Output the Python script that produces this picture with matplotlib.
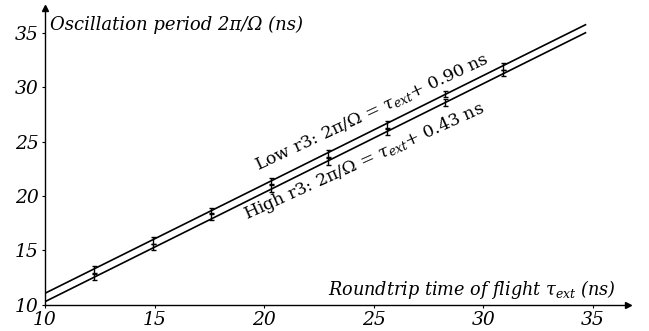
import matplotlib
matplotlib.use('Agg')
import matplotlib.pyplot as plt
import numpy as np

plt.rcParams['font.family'] = 'DejaVu Serif'
plt.rcParams['font.style'] = 'italic'
plt.rcParams['mathtext.fontset'] = 'dejavuserif'

tau = [12.25, 14.92, 17.56, 20.29, 22.89, 25.60, 28.26, 30.90]
low_r3 = [13.2, 15.9, 18.6, 21.4, 23.9, 26.6, 29.4, 31.9]
high_r3 = [12.6, 15.3, 18.1, 20.7, 23.2, 25.9, 28.6, 31.3]
low_err = [0.35, 0.3, 0.3, 0.3, 0.3, 0.3, 0.3, 0.3]
high_err = [0.35, 0.3, 0.3, 0.3, 0.3, 0.3, 0.3, 0.3]

# 피팅 직선 (양 끝점)
fit_x = [10.0, 34.66]
fit_low = [11.05, 35.76]
fit_high = [10.28, 35.02]

xticks = [10, 15, 20, 25, 30, 35]
yticks = [10, 15, 20, 25, 30, 35]

fig = plt.figure(figsize=(6.49, 3.31), dpi=100)
ax = fig.add_axes([45 / 649, 26.3 / 331, 583 / 649, 296.7 / 331])

ax.plot(fit_x, fit_low, color='black', lw=1.2)
ax.plot(fit_x, fit_high, color='black', lw=1.2)
ax.errorbar(tau, low_r3, yerr=low_err, fmt='none', ecolor='black', elinewidth=1.0, capsize=1.8)
ax.errorbar(tau, high_r3, yerr=high_err, fmt='none', ecolor='black', elinewidth=1.0, capsize=1.8)

ax.set_xlim(10, 36.6)
ax.set_ylim(10, 37.3)
ax.set_xticks(xticks)
ax.set_yticks(yticks)
ax.tick_params(length=2.5, width=0.8, labelsize=13.5, pad=2)

for s in ['top', 'right']:
    ax.spines[s].set_visible(False)
for s in ['left', 'bottom']:
    ax.spines[s].set_linewidth(1.0)

# 축 화살표
ax.plot(1, 0, '>k', ms=5, transform=ax.transAxes, clip_on=False)
ax.plot(0, 1, '^k', ms=5, transform=ax.transAxes, clip_on=False)

ax.text(10.25, 35.3, r'Oscillation period 2π/Ω (ns)', fontsize=13)
ax.text(22.9, 10.9, r'Roundtrip time of flight $\tau_{\rm ext}$ (ns)', fontsize=12.7)

ax.text(19.73, 22.33, r'Low r3: 2π/Ω = $\tau_{ext}$+ 0.90 ns', fontsize=12.5, fontstyle='normal',
        rotation=25.0, rotation_mode='anchor', ha='left', va='baseline')
ax.text(19.21, 17.88, r'High r3: 2π/Ω = $\tau_{ext}$+ 0.43 ns', fontsize=12.5, fontstyle='normal',
        rotation=24.3, rotation_mode='anchor', ha='left', va='baseline')

fig.savefig('out.png', dpi=100)
